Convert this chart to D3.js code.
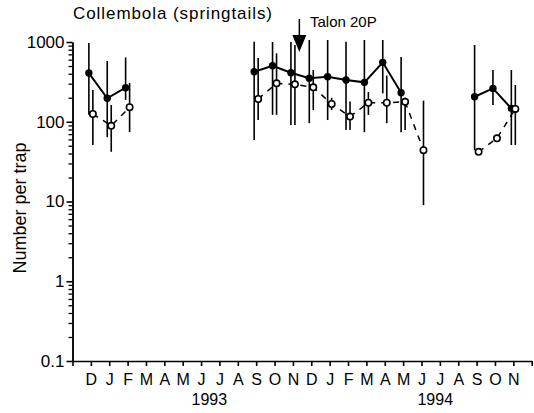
<!DOCTYPE html>
<html>
<head>
<meta charset="utf-8">
<script src="https://cdn.jsdelivr.net/npm/d3@7"></script>
<style>
  body { margin: 0; background: #fff; }
  svg { display: block; font-family: "Liberation Sans", Arial, Helvetica, sans-serif; }
</style>
</head>
<body>
<div class="chart"></div>
<script>
var svgWidth = 534;
var svgHeight = 413;

// month labels for ticks 1..24 (Dec 1992 .. Nov 1994), tick 0 = Nov 1992
var monthLabels = ["D","J","F","M","A","M","J","J","A","S","O","N","D","J","F","M","A","M","J","J","A","S","O","N"];
var yearLabels = ["1993", "1994"];
var yearAt = [7.45, 19.75];
var yTicks = [0.1, 1, 10, 100, 1000];

// sample months (index into the month axis)
var monthIndex = [1, 2, 3, 10, 11, 12, 13, 14, 15, 16, 17, 18, 19, 22, 23, 24];

// filled circles
var solidMean = [408, 197, 267, 424, 504, 412, 351, 367, 334, 312, 556, 231, null, 206, 262, 147];
var solidLow  = [122, 64, 188, 59, 122, 91, 96, 105, 79, 74, 227, 74, null, 44, 162, 51];
var solidHigh = [971, 578, 640, 1009, 1000, 1000, 1059, 1059, 1009, 1059, 1059, 650, null, 917, 446, 446];

// open circles
var openMean = [125, 89, 152, 193, 303, 295, 270, 167, 116, 173, 173, 178, 44, 42, 62, 145];
var openLow  = [51, 42, 74, 105, 122, 91, 140, 140, 79, 122, 96, 79, 9, 42, 62, 51];
var openHigh = [250, 162, 306, 630, 720, 917, 446, 200, 180, 236, 380, 200, 184, 42, 62, 289];

var svg = d3.select(".chart")
  .append("svg")
  .attr("width", svgWidth)
  .attr("height", svgHeight);

var x = d3.scaleLinear().domain([0, 25]).range([72.5, 531.7]);
var y = d3.scaleLog().domain([0.1, 1000]).range([361, 42]);

// build rows for each series
function rows(mean, lo, hi, dx) {
  return monthIndex.map(function(m, i) {
    return { m: m, v: mean[i], lo: lo[i], hi: hi[i], dx: dx };
  }).filter(function(d) { return d.v != null; });
}
var solid = rows(solidMean, solidLow, solidHigh, -2);
var open = rows(openMean, openLow, openHigh, 2);

// split into runs of consecutive months
function runs(data) {
  var out = [], cur = [];
  data.forEach(function(d, i) {
    if (i > 0 && d.m - data[i - 1].m > 1) { out.push(cur); cur = []; }
    cur.push(d);
  });
  out.push(cur);
  return out;
}

var line = d3.line()
  .x(function(d) { return x(d.m) + d.dx; })
  .y(function(d) { return y(d.v); });

// x axis
var xAxis = d3.axisBottom(x)
  .tickValues(d3.range(0, 26))
  .tickSize(5)
  .tickSizeOuter(0)
  .tickPadding(8)
  .tickFormat(function(d) { return monthLabels[d - 1] || ""; });

var gx = svg.append("g")
  .attr("transform", "translate(0," + y(0.1) + ")")
  .call(xAxis);
gx.attr("font-size", 16).attr("font-family", null);
gx.selectAll("path, line").attr("stroke", "#000").attr("stroke-width", 1.6);

// y axis minor ticks
var minor = [];
[0.1, 1, 10, 100].forEach(function(b) {
  for (var k = 2; k <= 9; k++) minor.push(b * k);
});
var gyMinor = svg.append("g")
  .attr("transform", "translate(" + x(0) + ",0)")
  .call(d3.axisLeft(y).tickValues(minor).tickSize(4).tickSizeOuter(0).tickFormat(""));
gyMinor.selectAll("path, line").attr("stroke", "#000").attr("stroke-width", 1.3);

var gy = svg.append("g")
  .attr("transform", "translate(" + x(0) + ",0)")
  .call(d3.axisLeft(y).tickValues(yTicks).tickSize(6).tickSizeOuter(0).tickPadding(2)
    .tickFormat(function(d) { return d < 1 ? "0.1" : d3.format("d")(d); }));
gy.attr("font-size", 17).attr("font-family", null);
gy.selectAll("path, line").attr("stroke", "#000").attr("stroke-width", 1.6);

// year labels
svg.selectAll(".year")
  .data(yearLabels)
  .enter().append("text")
  .attr("class", "year")
  .attr("x", function(d, i) { return x(yearAt[i]); })
  .attr("y", 405)
  .attr("text-anchor", "middle")
  .attr("font-size", 16)
  .text(function(d) { return d; });

// y axis title
svg.append("text")
  .attr("transform", "translate(26,208) rotate(-90)")
  .attr("text-anchor", "middle")
  .attr("font-size", 18)
  .text("Number per trap");

// chart title
svg.append("text")
  .attr("x", 73)
  .attr("y", 19)
  .attr("font-size", 17)
  .attr("textLength", 199)
  .text("Collembola (springtails)");

// Talon 20P annotation
var ax = x(12.35);
svg.append("line")
  .attr("x1", ax).attr("x2", ax)
  .attr("y1", 19).attr("y2", 37)
  .attr("stroke", "#000").attr("stroke-width", 1.5);
svg.append("path")
  .attr("d", "M" + (ax - 7) + ",35L" + (ax + 7) + ",35L" + ax + ",52Z")
  .attr("fill", "#000");
svg.append("text")
  .attr("x", 310)
  .attr("y", 27)
  .attr("font-size", 15)
  .text("Talon 20P");

// connecting lines
svg.selectAll(".solidLine")
  .data(runs(solid))
  .enter().append("path")
  .attr("class", "solidLine")
  .attr("d", line)
  .attr("fill", "none")
  .attr("stroke", "#000")
  .attr("stroke-width", 2);

svg.selectAll(".openLine")
  .data(runs(open))
  .enter().append("path")
  .attr("class", "openLine")
  .attr("d", line)
  .attr("fill", "none")
  .attr("stroke", "#000")
  .attr("stroke-width", 1.5)
  .attr("stroke-dasharray", "6,6");

// error bars
svg.selectAll(".err")
  .data(solid.concat(open))
  .enter().append("line")
  .attr("class", "err")
  .attr("x1", function(d) { return x(d.m) + d.dx; })
  .attr("x2", function(d) { return x(d.m) + d.dx; })
  .attr("y1", function(d) { return y(d.hi); })
  .attr("y2", function(d) { return y(d.lo); })
  .attr("stroke", "#000")
  .attr("stroke-width", 1.6);

// markers
svg.selectAll(".solidDot")
  .data(solid)
  .enter().append("circle")
  .attr("class", "solidDot")
  .attr("cx", function(d) { return x(d.m) + d.dx; })
  .attr("cy", function(d) { return y(d.v); })
  .attr("r", 3.7)
  .attr("fill", "#000");

svg.selectAll(".openDot")
  .data(open)
  .enter().append("circle")
  .attr("class", "openDot")
  .attr("cx", function(d) { return x(d.m) + d.dx; })
  .attr("cy", function(d) { return y(d.v); })
  .attr("r", 3.2)
  .attr("fill", "#fff")
  .attr("stroke", "#000")
  .attr("stroke-width", 1.6);
</script>
</body>
</html>
